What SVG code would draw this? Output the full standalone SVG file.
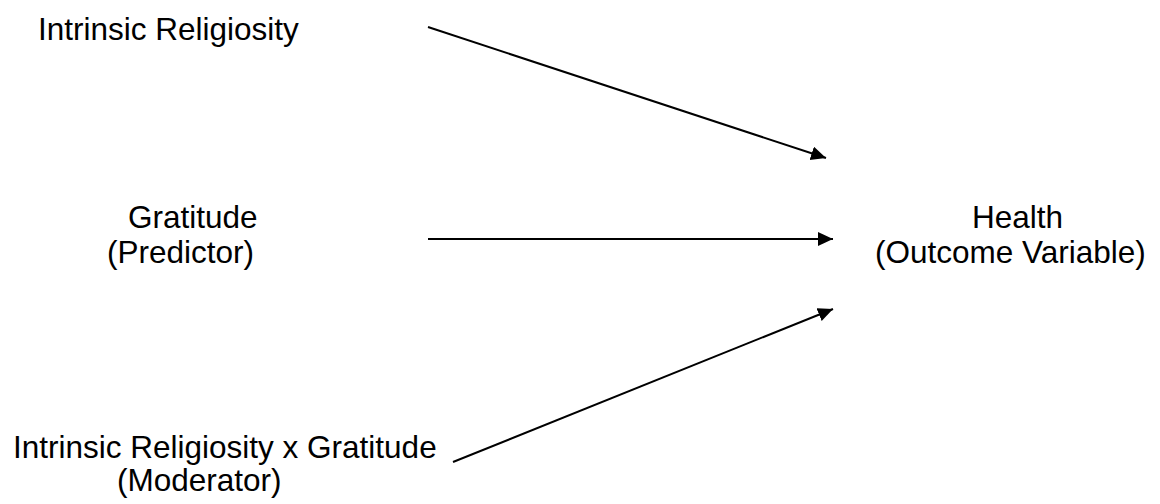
<svg xmlns="http://www.w3.org/2000/svg" width="1160" height="504" viewBox="0 0 1160 504">
<style>
text{font-family:"Liberation Sans",Arial,sans-serif;font-size:31.5px;fill:#000}
.c{stroke:#000;stroke-width:2;fill:none}
</style>
<defs>
<marker id="ah" markerUnits="userSpaceOnUse" markerWidth="16" markerHeight="15" refX="15" refY="7" orient="auto" viewBox="0 0 16 15">
<path d="M0,0 L15,7 L0,14 z" fill="#000"/>
</marker>
</defs>
<rect width="1160" height="504" fill="#fff"/>
<g id="connectors">
<line class="c" x1="428" y1="27" x2="826" y2="158" marker-end="url(#ah)"/>
<line class="c" x1="428" y1="239" x2="833" y2="239" marker-end="url(#ah)"/>
<line class="c" x1="453" y1="462" x2="833" y2="309" marker-end="url(#ah)"/>
</g>
<g id="intrinsic"><text x="38" y="40">Intrinsic Religiosity</text></g>
<g id="gratitude"><text x="128" y="228">Gratitude</text><text x="107" y="263">(Predictor)</text></g>
<g id="health"><text x="972" y="228">Health</text><text x="875" y="263">(Outcome Variable)</text></g>
<g id="moderator"><text x="13" y="458">Intrinsic Religiosity x Gratitude</text><text x="117" y="491">(Moderator)</text></g>
</svg>
